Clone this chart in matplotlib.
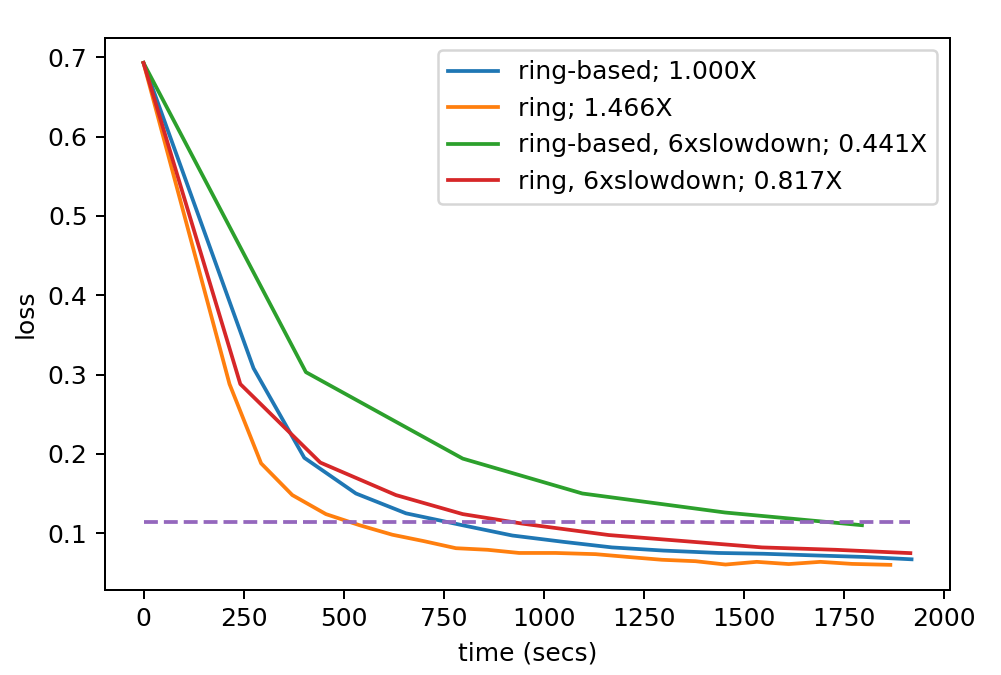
import matplotlib
matplotlib.use("Agg")
import matplotlib.pyplot as plt

# time (secs) / loss per run
ringbased_t = [0, 275, 402, 531, 656, 797, 922, 1050, 1171, 1300, 1438, 1550, 1671, 1800, 1920]
ringbased_loss = [0.693, 0.308, 0.195, 0.150, 0.125, 0.110, 0.097, 0.089, 0.082, 0.078, 0.075, 0.074, 0.072, 0.070, 0.067]

ring_t = [0, 215, 294, 372, 456, 540, 622, 700, 781, 860, 939, 1030, 1130, 1210, 1296, 1380, 1455,
          1533, 1613, 1692, 1771, 1867]
ring_loss = [0.693, 0.288, 0.188, 0.148, 0.124, 0.110, 0.098, 0.090, 0.081, 0.079, 0.075, 0.075, 0.0735,
             0.070, 0.0664, 0.0646, 0.0604, 0.0638, 0.061, 0.0638, 0.0612, 0.060]

ringbased_slow_t = [0, 406, 798, 1097, 1454, 1796]
ringbased_slow_loss = [0.693, 0.303, 0.194, 0.150, 0.126, 0.110]

ring_slow_t = [0, 242, 442, 631, 798, 947, 1163, 1350, 1546, 1730, 1917]
ring_slow_loss = [0.693, 0.288, 0.189, 0.148, 0.124, 0.112, 0.0976, 0.090, 0.082, 0.079, 0.0748]

target_loss = 0.1137
target_t = [0, 1917]

labels = ["ring-based; 1.000X", "ring; 1.466X",
          "ring-based, 6xslowdown; 0.441X", "ring, 6xslowdown; 0.817X"]

fig = plt.figure(figsize=(1001 / 180, 675 / 180), dpi=180)
ax = fig.add_axes([0.105, 0.126, 0.844, 0.818])

ax.plot(ringbased_t, ringbased_loss, label=labels[0])
ax.plot(ring_t, ring_loss, label=labels[1])
ax.plot(ringbased_slow_t, ringbased_slow_loss, label=labels[2])
ax.plot(ring_slow_t, ring_slow_loss, label=labels[3])
ax.plot(target_t, [target_loss, target_loss], "--")

ax.set_xlabel("time (secs)")
ax.set_ylabel("loss")
ax.set_xticks([0, 250, 500, 750, 1000, 1250, 1500, 1750, 2000])
ax.legend(loc="upper right")

fig.savefig("out.png", dpi=180)
